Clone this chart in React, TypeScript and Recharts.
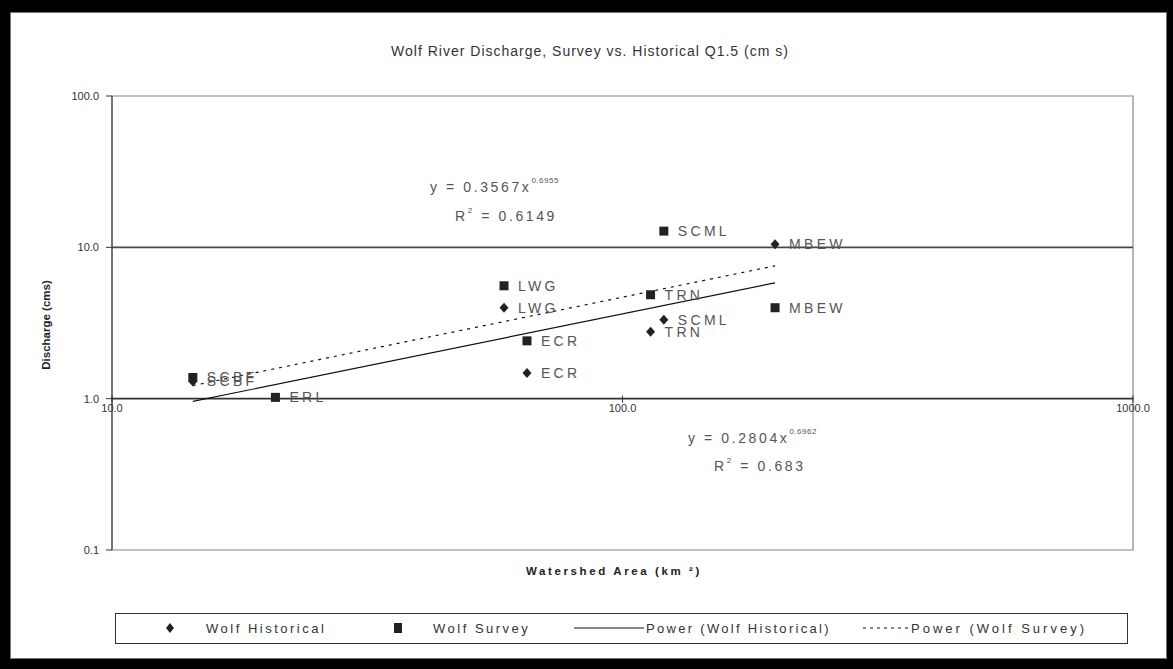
import React from 'react';
import { ScatterChart, Scatter, XAxis, YAxis, ReferenceLine, ReferenceArea } from 'recharts';

// ---- data ----
const histNames = ['SCBF', 'LWG', 'ECR', 'TRN', 'SCML', 'MBEW'];
const histArea = [14.4, 58.6, 65.0, 113.5, 120.5, 199];
const histQ = [1.3, 3.99, 1.48, 2.77, 3.32, 10.5];

const surveyNames = ['SCBF', 'ERL', 'LWG', 'ECR', 'TRN', 'SCML', 'MBEW'];
const surveyArea = [14.4, 20.9, 58.6, 65.0, 113.5, 120.5, 199];
const surveyQ = [1.38, 1.02, 5.57, 2.41, 4.86, 12.8, 3.99];

// trend line endpoints as drawn
const histTrendArea = [14.4, 199];
const histTrendQ = [0.96, 5.83];
const surveyTrendArea = [14.4, 199];
const surveyTrendQ = [1.22, 7.55];

const xTicks = [10, 100, 1000];
const yTicks = [0.1, 1, 10, 100];

const histData = histNames.map((n, i) => ({ x: histArea[i], y: histQ[i], name: n }));
const surveyData = surveyNames.map((n, i) => ({ x: surveyArea[i], y: surveyQ[i], name: n }));
const histTrend = histTrendArea.map((x, i) => ({ x, y: histTrendQ[i] }));
const surveyTrend = surveyTrendArea.map((x, i) => ({ x, y: surveyTrendQ[i] }));

// ---- layout ----
const W = 1173;
const H = 669;
const PLOT_LEFT = 112;
const PLOT_RIGHT = 1133;
const PLOT_TOP = 96;
const PLOT_BOTTOM = 550;
const Y_AXIS_W = 60;
const X_AXIS_H = 30;
const Y_ONE = PLOT_TOP + ((PLOT_BOTTOM - PLOT_TOP) * 2) / 3; // position of value 1 on log axis 0.1..100

const FONT = '"Liberation Sans", Arial, sans-serif';
const LABEL_STYLE = { fontSize: 14, letterSpacing: 3.3, fill: '#555', fontFamily: FONT };

const Diamond = (props: any) => {
  const { cx, cy, payload } = props;
  return (
    <g>
      <polygon points={`${cx},${cy - 5} ${cx + 4.5},${cy} ${cx},${cy + 5} ${cx - 4.5},${cy}`} fill="#222" />
      <text x={cx + 14} y={cy} dominantBaseline="central" {...LABEL_STYLE}>{payload.name}</text>
    </g>
  );
};

const Square = (props: any) => {
  const { cx, cy, payload } = props;
  return (
    <g>
      <rect x={cx - 4.5} y={cy - 4.5} width={9} height={9} fill="#222" />
      <text x={cx + 14} y={cy} dominantBaseline="central" {...LABEL_STYLE}>{payload.name}</text>
    </g>
  );
};

const NoShape = () => <g />;

const XTick = (props: any) => {
  const { x, payload } = props;
  return (
    <g>
      <line x1={x} x2={x} y1={Y_ONE - 3} y2={Y_ONE + 4} stroke="#333" />
      <text x={x} y={Y_ONE + 13} textAnchor="middle" fontSize={11} fill="#333" fontFamily={FONT}>
        {Number(payload.value).toFixed(1)}
      </text>
    </g>
  );
};

export default function App() {
  return (
    <div style={{ position: 'absolute', left: 0, top: 0, width: W, height: H, background: '#000', overflow: 'hidden' }}>
      <div
        style={{
          position: 'absolute',
          left: 10,
          top: 12,
          width: 1155,
          height: 645,
          background: '#fff',
          border: '1px solid #777',
        }}
      />
      <div style={{ position: 'absolute', left: 0, top: 0 }}>
        <ScatterChart
          width={W}
          height={H}
          margin={{ top: PLOT_TOP, right: W - PLOT_RIGHT, bottom: H - PLOT_BOTTOM - X_AXIS_H, left: PLOT_LEFT - Y_AXIS_W }}
        >
          <XAxis
            type="number"
            dataKey="x"
            scale="log"
            domain={[10, 1000]}
            ticks={xTicks}
            axisLine={false}
            tickLine={false}
            tick={<XTick />}
            height={X_AXIS_H}
            allowDataOverflow
          />
          <YAxis
            type="number"
            dataKey="y"
            scale="log"
            domain={[0.1, 100]}
            ticks={yTicks}
            tickFormatter={(v: number) => v.toFixed(1)}
            width={Y_AXIS_W}
            axisLine={{ stroke: '#333' }}
            tickLine={{ stroke: '#333' }}
            tickSize={6}
            tickMargin={7}
            tick={{ fontSize: 11, fill: '#333', fontFamily: FONT }}
            allowDataOverflow
          />
          <ReferenceArea x1={10} x2={1000} y1={0.1} y2={100} fill="none" stroke="#888" strokeWidth={1.2} ifOverflow="visible" />
          <ReferenceLine y={10} stroke="#4a4a4a" strokeWidth={1.6} />
          <ReferenceLine y={1} stroke="#333" strokeWidth={1.6} />
          <Scatter data={histTrend} line={{ stroke: '#111', strokeWidth: 1.2 }} shape={NoShape} isAnimationActive={false} />
          <Scatter
            data={surveyTrend}
            line={{ stroke: '#111', strokeWidth: 1.2, strokeDasharray: '3 5' }}
            shape={NoShape}
            isAnimationActive={false}
          />
          <Scatter data={histData} shape={Diamond} isAnimationActive={false} />
          <Scatter data={surveyData} shape={Square} isAnimationActive={false} />
        </ScatterChart>
      </div>
      <svg width={W} height={H} style={{ position: 'absolute', left: 0, top: 0, pointerEvents: 'none' }}>
        <text x={590} y={56} textAnchor="middle" fontSize={14} fill="#333" fontFamily={FONT} letterSpacing={1}>
          Wolf River Discharge, Survey vs. Historical Q1.5 (cm s)
        </text>
        <text
          x={50}
          y={325}
          textAnchor="middle"
          transform="rotate(-90 50 325)"
          fontSize={11.5}
          fontWeight="bold"
          fill="#222"
          fontFamily={FONT}
        >
          Discharge (cms)
        </text>
        <text x={614} y={575} textAnchor="middle" fontSize={11.5} fontWeight="bold" fill="#222" fontFamily={FONT} letterSpacing={2.6}>
          Watershed Area (km ²)
        </text>
        <text x={430} y={192} fontSize={14} fill="#555" fontFamily={FONT} letterSpacing={2.6}>
          y = 0.3567x<tspan dy={-9} fontSize={8} letterSpacing={0.5}>0.6955</tspan>
        </text>
        <text x={455} y={221} fontSize={14} fill="#555" fontFamily={FONT} letterSpacing={2.6}>
          R<tspan dy={-8} fontSize={8}>2</tspan><tspan dy={8}> = 0.6149</tspan>
        </text>
        <text x={688} y={443} fontSize={14} fill="#555" fontFamily={FONT} letterSpacing={2.6}>
          y = 0.2804x<tspan dy={-9} fontSize={8} letterSpacing={0.5}>0.6962</tspan>
        </text>
        <text x={714} y={471} fontSize={14} fill="#555" fontFamily={FONT} letterSpacing={2.6}>
          R<tspan dy={-8} fontSize={8}>2</tspan><tspan dy={8}> = 0.683</tspan>
        </text>
        {/* legend */}
        <rect x={115.5} y={613.5} width={1012} height={30} fill="#fff" stroke="#333" />
        <polygon points="170,623 174,628 170,633 166,628" fill="#222" />
        <text x={206} y={633} fontSize={13} fill="#333" fontFamily={FONT} letterSpacing={2.5}>Wolf Historical</text>
        <rect x={394} y={623} width={8} height={10} fill="#222" />
        <text x={433} y={633} fontSize={13} fill="#333" fontFamily={FONT} letterSpacing={2.5}>Wolf Survey</text>
        <line x1={574} x2={644} y1={628} y2={628} stroke="#111" strokeWidth={1.2} />
        <text x={646} y={633} fontSize={13} fill="#333" fontFamily={FONT} letterSpacing={2.3}>Power (Wolf Historical)</text>
        <line x1={863} x2={908} y1={628} y2={628} stroke="#111" strokeWidth={1.2} strokeDasharray="3 4" />
        <text x={911} y={633} fontSize={13} fill="#333" fontFamily={FONT} letterSpacing={3}>Power (Wolf Survey)</text>
      </svg>
    </div>
  );
}
